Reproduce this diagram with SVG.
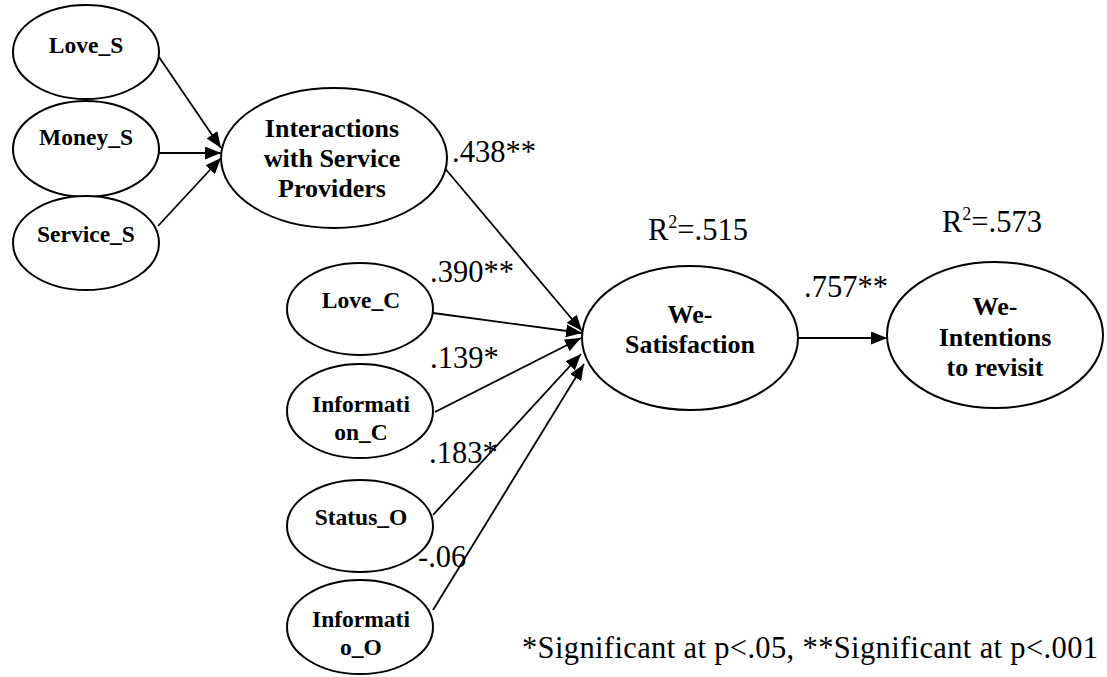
<svg xmlns="http://www.w3.org/2000/svg" width="1107" height="677" viewBox="0 0 1107 677">
  <style>
    .node ellipse { fill: #ffffff; stroke: #000000; stroke-width: 2; }
    .lbl { font-family: 'Liberation Serif', 'Times New Roman', serif; font-weight: bold; fill: #000000; text-anchor: middle; }
    .sm { font-size: 23.5px; }
    .lg { font-size: 26px; }
    .coef { font-family: 'Liberation Serif', 'Times New Roman', serif; font-size: 30.5px; fill: #000000; }
    .edges line { stroke: #000000; stroke-width: 1.8; fill: none; marker-end: url(#arrow); }
  </style>
  <defs>
    <marker id="arrow" markerUnits="userSpaceOnUse" markerWidth="17" markerHeight="13" refX="16" refY="6.5" orient="auto">
      <path d="M0,0 L16,6.5 L0,13 z" fill="#000000"/>
    </marker>
  </defs>

  <rect width="1107" height="677" fill="#ffffff"/>

  <!-- path connectors -->
  <g id="connectors" class="edges">
    <line x1="159" y1="57" x2="221" y2="148"/>
    <line x1="159" y1="153" x2="221" y2="153"/>
    <line x1="158" y1="226" x2="221" y2="158"/>
    <line x1="443" y1="166" x2="582" y2="331"/>
    <line x1="433" y1="313" x2="582" y2="333"/>
    <line x1="435" y1="412" x2="581" y2="338"/>
    <line x1="433" y1="515" x2="581" y2="354"/>
    <line x1="433" y1="610" x2="584" y2="364"/>
    <line x1="797" y1="338" x2="887" y2="338"/>
  </g>

  <!-- antecedents of interactions -->
  <g id="love_s" class="node">
    <ellipse cx="86" cy="52" rx="73" ry="47"/>
    <text class="lbl sm" x="86" y="53">Love_S</text>
  </g>
  <g id="money_s" class="node">
    <ellipse cx="86" cy="149" rx="73" ry="48"/>
    <text class="lbl sm" x="86" y="145">Money_S</text>
  </g>
  <g id="service_s" class="node">
    <ellipse cx="86" cy="243" rx="73" ry="47"/>
    <text class="lbl sm" x="86" y="242">Service_S</text>
  </g>

  <g id="interactions" class="node">
    <ellipse cx="334" cy="158" rx="113" ry="70"/>
    <text class="lbl lg" x="332" y="137">Interactions</text>
    <text class="lbl lg" x="332" y="167">with Service</text>
    <text class="lbl lg" x="332" y="197">Providers</text>
  </g>

  <!-- other antecedents of we-satisfaction -->
  <g id="love_c" class="node">
    <ellipse cx="360" cy="309" rx="73" ry="46"/>
    <text class="lbl sm" x="361" y="308">Love_C</text>
  </g>
  <g id="information_c" class="node">
    <ellipse cx="360" cy="411" rx="73" ry="47"/>
    <text class="lbl sm" x="361" y="412">Informati</text>
    <text class="lbl sm" x="361" y="440">on_C</text>
  </g>
  <g id="status_o" class="node">
    <ellipse cx="360" cy="526" rx="73" ry="46"/>
    <text class="lbl sm" x="361" y="525">Status_O</text>
  </g>
  <g id="information_o" class="node">
    <ellipse cx="360" cy="627" rx="73" ry="47"/>
    <text class="lbl sm" x="361" y="627">Informati</text>
    <text class="lbl sm" x="361" y="655">o_O</text>
  </g>

  <!-- outcomes -->
  <g id="we_satisfaction" class="node">
    <ellipse cx="690" cy="338" rx="108" ry="72"/>
    <text class="lbl lg" x="690" y="323">We-</text>
    <text class="lbl lg" x="690" y="353">Satisfaction</text>
  </g>
  <g id="we_intentions" class="node">
    <ellipse cx="995" cy="335" rx="108" ry="73"/>
    <text class="lbl lg" x="995" y="315">We-</text>
    <text class="lbl lg" x="995" y="346">Intentions</text>
    <text class="lbl lg" x="995" y="376">to revisit</text>
  </g>

  <!-- path coefficients and fit -->
  <g id="coefficients">
    <text class="coef" x="452" y="162">.438**</text>
    <text class="coef" x="430" y="282">.390**</text>
    <text class="coef" x="430" y="368">.139*</text>
    <text class="coef" x="429" y="463">.183*</text>
    <text class="coef" x="418" y="567">-.06</text>
    <text class="coef" x="804" y="297">.757**</text>
    <text class="coef" x="648" y="240">R<tspan font-size="18" dy="-12">2</tspan><tspan dy="12">=.515</tspan></text>
    <text class="coef" x="942" y="232">R<tspan font-size="18" dy="-12">2</tspan><tspan dy="12">=.573</tspan></text>
    <text class="coef" x="522" y="658" font-size="32.5" textLength="576" lengthAdjust="spacing">*Significant at p&lt;.05, **Significant at p&lt;.001</text>
  </g>
</svg>
